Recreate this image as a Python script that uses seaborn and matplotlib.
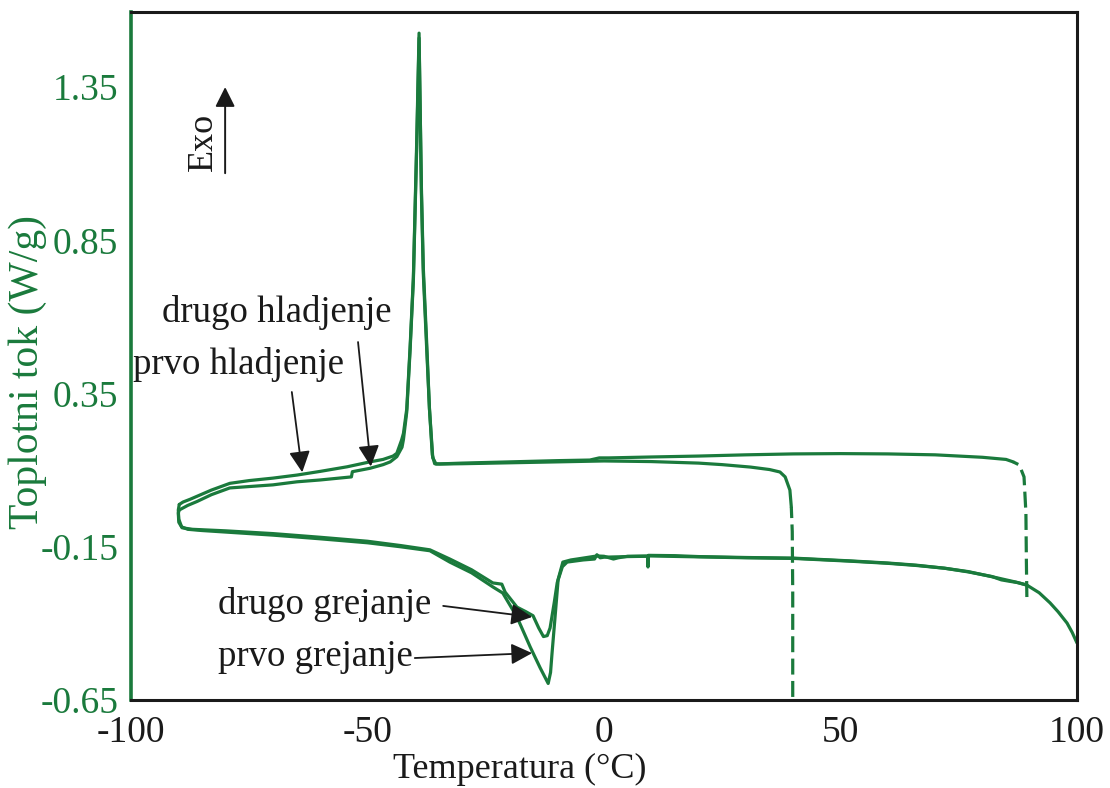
import numpy as np
import pandas as pd
import matplotlib
matplotlib.use("Agg")
import matplotlib.pyplot as plt
import seaborn as sns

# ---- DSC curves: temperature (°C) and heat flow (W/g) ----
# first cooling (from 40 °C down to -90 °C)
cool1_T = [39.6, 39.3, 38.3, 37.2, 35.0, 31.0, 25.0, 20.0, 10.0, 0.0, -10.0, -20.0,
           -30.0, -34.7, -35.8, -36.3, -36.9, -37.5, -38.2, -38.6, -39.1, -39.6,
           -40.3, -41.0, -41.7, -42.4, -42.8, -43.8, -44.6, -46.7, -49.5, -54.3,
           -60.0, -64.9, -70.0, -75.0, -79.1, -83.0, -86.0, -87.5, -89.0, -89.8]
cool1_W = [-0.02, 0.035, 0.078, 0.094, 0.102, 0.110, 0.118, 0.123, 0.128, 0.130,
           0.127, 0.124, 0.121, 0.120, 0.121, 0.15, 0.30, 0.50, 0.74, 1.00, 1.526,
           1.17, 0.73, 0.50, 0.30, 0.22, 0.198, 0.155, 0.146, 0.135, 0.127, 0.111,
           0.096, 0.084, 0.074, 0.066, 0.057, 0.035, 0.015, 0.005, -0.004, -0.012]

# second cooling (from 90 °C down to -90 °C)
cool2_T = [86.5, 85.0, 80.0, 70.0, 60.0, 50.0, 40.0, 30.0, 20.0, 10.0, 1.0, -1.0,
           -3.0, -10.0, -20.0, -30.0, -35.5, -36.2, -36.9, -37.5, -38.2, -38.6,
           -39.1, -39.6, -40.3, -41.0, -41.7, -42.4, -42.7, -43.8, -45.2, -46.7,
           -49.5, -53.2, -53.4, -60.0, -64.9, -70.0, -79.1, -83.0, -86.0, -88.0,
           -89.8]
cool2_W = [0.127, 0.135, 0.142, 0.150, 0.153, 0.154, 0.153, 0.150, 0.146, 0.143,
           0.140, 0.140, 0.133, 0.131, 0.127, 0.123, 0.120, 0.14, 0.30, 0.52, 0.76,
           1.02, 1.51, 1.15, 0.72, 0.49, 0.29, 0.20, 0.175, 0.144, 0.127, 0.118,
           0.106, 0.095, 0.078, 0.068, 0.062, 0.052, 0.042, 0.020, -0.002, -0.015,
           -0.030]

# first heating (from -90 °C up to 90 °C)
heat1_T = [-89.8, -90.0, -89.9, -89.3, -88.0, -85.0, -80.0, -70.0, -60.0, -50.0,
           -43.0, -36.8, -32.6, -28.0, -23.5, -21.4, -18.4, -15.6, -13.5, -11.8,
           -11.3, -11.0, -10.4, -9.7, -8.8, -7.8, -4.4, -2.0, -1.5, -0.8, 0.0, 5.0,
           9.2, 9.3, 9.4, 15.0, 20.0, 30.0, 40.0, 52.0, 60.0, 66.0, 72.0, 77.0,
           82.0, 84.0, 85.5, 87.5, 89.4]
heat1_W = [-0.012, -0.03, -0.06, -0.085, -0.093, -0.097, -0.102, -0.112, -0.124,
           -0.137, -0.150, -0.163, -0.200, -0.235, -0.281, -0.301, -0.379, -0.477,
           -0.545, -0.596, -0.56, -0.50, -0.389, -0.258, -0.215, -0.200, -0.193,
           -0.190, -0.176, -0.186, -0.184, -0.182, -0.181, -0.216, -0.178, -0.179,
           -0.182, -0.185, -0.187, -0.196, -0.203, -0.210, -0.220, -0.232, -0.247,
           -0.258, -0.262, -0.267, -0.275]

# second heating (from -90 °C up to 100 °C)
heat2_T = [-89.8, -90.0, -89.9, -89.2, -87.0, -80.0, -70.0, -60.0, -50.0, -43.0,
           -36.8, -32.6, -28.0, -23.5, -21.6, -20.9, -18.4, -16.5, -15.0, -13.8,
           -12.8, -12.0, -11.4, -10.5, -9.9, -8.7, -7.0, -5.7, -1.5, 0.0, 2.0, 3.0,
           5.0, 10.0, 20.0, 30.0, 40.0, 52.0, 60.0, 66.0, 72.0, 77.0, 83.0, 87.0,
           89.4, 92.0, 94.3, 96.0, 97.9, 99.0, 100.0]
heat2_W = [-0.030, -0.04, -0.07, -0.088, -0.093, -0.098, -0.107, -0.119, -0.132,
           -0.146, -0.160, -0.190, -0.225, -0.268, -0.272, -0.298, -0.347, -0.362,
           -0.375, -0.415, -0.443, -0.44, -0.415, -0.33, -0.268, -0.200, -0.193,
           -0.190, -0.180, -0.181, -0.190, -0.186, -0.181, -0.180, -0.183, -0.186,
           -0.188, -0.197, -0.204, -0.211, -0.220, -0.231, -0.251, -0.265, -0.275,
           -0.300, -0.333, -0.362, -0.399, -0.430, -0.464]

# start-up transients of the two cooling runs
start1_T = [39.9, 39.9, 39.8, 39.6]
start1_W = [-0.64, -0.30, -0.10, -0.02]
start2_T = [89.4, 89.3, 89.2, 88.8, 87.8, 86.5]
start2_W = [-0.314, -0.20, -0.04, 0.078, 0.117, 0.127]

x_ticks = [-100, -50, 0, 50, 100]
y_ticks = [-0.65, -0.15, 0.35, 0.85, 1.35]
y_labels = ["-0.65", "-0.15", "0.35", "0.85", "1.35"]

GREEN = "#1a7a3c"
INK = "#1a1a1a"

sns.set_style("white")
plt.rcParams["font.family"] = ["Liberation Serif", "DejaVu Serif"]

fig = plt.figure(figsize=(11.1, 7.88), dpi=100)
ax = fig.add_axes([131 / 1110, 88 / 788, 946 / 1110, 688 / 788])

curves = [(cool1_T, cool1_W), (cool2_T, cool2_W),
          (heat1_T, heat1_W), (heat2_T, heat2_W)]
for T, W in curves:
    df = pd.DataFrame({"T": T, "W": W})
    sns.lineplot(data=df, x="T", y="W", sort=False, estimator=None,
                 color=GREEN, lw=2.3, ax=ax)

for T, W in [(start1_T, start1_W), (start2_T, start2_W)]:
    df = pd.DataFrame({"T": T, "W": W})
    sns.lineplot(data=df, x="T", y="W", sort=False, estimator=None,
                 color=GREEN, lw=2.3, ax=ax, linestyle=(0, (5, 2)))

ax.set_xlim(-100, 100)
ax.set_ylim(-0.65, 1.595)

ax.set_xticks(x_ticks)
ax.set_xticklabels([str(v) for v in x_ticks])
ax.set_xticks(np.arange(-90, 100, 10), minor=True)
ax.set_yticks(y_ticks)
ax.set_yticklabels(y_labels)
ax.set_yticks(np.arange(-0.525, 1.55, 0.125), minor=True)

ax.tick_params(axis="x", which="major", direction="in", length=10, width=1.8,
               color=INK, labelsize=27, labelcolor=INK, pad=11)
ax.tick_params(axis="x", which="minor", direction="in", length=6, width=1.5,
               color=INK)
ax.tick_params(axis="y", which="major", direction="out", length=8, width=1.8,
               color=GREEN, labelsize=27, labelcolor=GREEN, pad=1)
ax.tick_params(axis="y", which="minor", direction="out", length=6, width=1.5,
               color=GREEN)

for side in ["top", "right", "bottom"]:
    ax.spines[side].set_color(INK)
    ax.spines[side].set_linewidth(2.2)
ax.spines["left"].set_color(GREEN)
ax.spines["left"].set_linewidth(2.6)

ax.set_xlabel("Temperatura (°C)", fontsize=26, color=INK)
ax.set_ylabel("Toplotni tok (W/g)", fontsize=30, color=GREEN)
ax.xaxis.set_label_coords(0.411, -0.0775)
ax.yaxis.set_label_coords(-0.089, 0.477)

# Exo direction marker
ax.annotate("", xy=(-80.1, 1.35), xytext=(-80.1, 1.069),
            arrowprops=dict(arrowstyle="-|>", color=INK, lw=1.4,
                            mutation_scale=30, shrinkA=0, shrinkB=0))
ax.text(-84.6, 1.17, "Exo", rotation=90, fontsize=26, color=INK,
        ha="center", va="center")

arrow_kw = dict(arrowstyle="-|>", color=INK, lw=1.3, mutation_scale=32,
                shrinkA=0, shrinkB=0)

ax.text(-93.4, 0.613, "drugo hladjenje", fontsize=26.5, color=INK,
        ha="left", va="center")
ax.text(-99.6, 0.446, "prvo hladjenje", fontsize=26.5, color=INK,
        ha="left", va="center")
ax.annotate("", xy=(-49.3, 0.112), xytext=(-52.0, 0.518), arrowprops=arrow_kw)
ax.annotate("", xy=(-63.8, 0.093), xytext=(-66.0, 0.355), arrowprops=arrow_kw)

ax.text(-81.6, -0.340, "drugo grejanje", fontsize=26.5, color=INK,
        ha="left", va="center")
ax.text(-81.6, -0.510, "prvo grejanje", fontsize=26.5, color=INK,
        ha="left", va="center")
ax.annotate("", xy=(-15.2, -0.379), xytext=(-34.0, -0.343), arrowprops=arrow_kw)
ax.annotate("", xy=(-15.2, -0.497), xytext=(-40.0, -0.513), arrowprops=arrow_kw)

fig.savefig("out.png", dpi=100)
